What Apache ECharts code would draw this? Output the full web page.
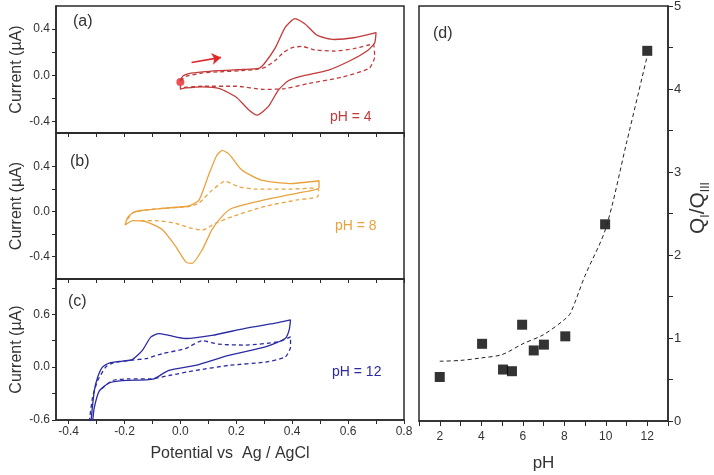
<!DOCTYPE html>
<html>
<head>
<meta charset="utf-8">
<script src="https://cdn.jsdelivr.net/npm/echarts@6/dist/echarts.min.js"></script>
<style>
html, body { margin: 0; padding: 0; background: #fff; }
#chart { width: 714px; height: 475px; }
</style>
</head>
<body>
<div id="chart"></div>
<script>
// tick positions
const potentialTicks = [-0.4, -0.2, 0, 0.2, 0.4, 0.6, 0.8]
const potentialMinor = [-0.4, -0.3, -0.2, -0.1, 0, 0.1, 0.2, 0.3, 0.4, 0.5, 0.6, 0.7, 0.8]
const currentTicksAB = [-0.4, 0, 0.4]
const currentMinorAB = [-0.4, -0.2, 0, 0.2, 0.4]
const currentTicksC = [-0.6, 0, 0.6]
const currentMinorC = [-0.6, -0.3, 0, 0.3, 0.6, 0.9]
const phTicks = [2, 4, 6, 8, 10, 12]
const ratioTicks = [0, 1, 2, 3, 4, 5]

// (a) pH = 4, [potential V, current uA]
const cvPh4Solid = [[0.0,-0.04],[0.01,-0.005],[0.03,0.015],[0.08,0.03],[0.14,0.04],[0.22,0.05],[0.28,0.06],[0.30,0.10],[0.34,0.24],[0.375,0.415],[0.41,0.49],[0.446,0.445],[0.49,0.345],[0.55,0.31],[0.62,0.325],[0.70,0.37],[0.695,0.28],[0.67,0.215],[0.61,0.13],[0.53,0.045],[0.43,-0.01],[0.385,-0.05],[0.35,-0.13],[0.315,-0.27],[0.275,-0.345],[0.245,-0.30],[0.20,-0.19],[0.14,-0.115],[0.08,-0.10],[0.02,-0.11],[0.0,-0.12],[0.0,-0.09]]
const cvPh4Dashed = [[0.0,-0.05],[0.02,-0.01],[0.08,0.02],[0.14,0.03],[0.22,0.04],[0.27,0.05],[0.30,0.066],[0.34,0.13],[0.37,0.20],[0.40,0.24],[0.435,0.25],[0.48,0.22],[0.55,0.21],[0.62,0.23],[0.67,0.26],[0.69,0.27],[0.695,0.16],[0.675,0.06],[0.58,-0.015],[0.46,-0.07],[0.375,-0.115],[0.30,-0.123],[0.20,-0.095],[0.08,-0.095],[0.01,-0.105]]
const startPoint = [[0.0, -0.058]]
const arrowFrom = [0.04, 0.11]
const arrowTo = [0.145, 0.155]

// (b) pH = 8
const cvPh8Solid = [[-0.198,-0.12],[-0.19,-0.06],[-0.17,-0.01],[-0.14,0.01],[-0.06,0.03],[0.03,0.05],[0.066,0.10],[0.10,0.32],[0.13,0.50],[0.15,0.545],[0.175,0.51],[0.22,0.37],[0.29,0.28],[0.39,0.25],[0.496,0.275],[0.496,0.21],[0.42,0.165],[0.30,0.105],[0.185,0.03],[0.15,-0.04],[0.113,-0.16],[0.078,-0.34],[0.042,-0.46],[0.02,-0.45],[-0.017,-0.31],[-0.065,-0.16],[-0.124,-0.09],[-0.17,-0.08],[-0.198,-0.12]]
const cvPh8Dashed = [[-0.19,-0.07],[-0.17,-0.01],[-0.14,0.01],[-0.06,0.03],[0.03,0.045],[0.066,0.075],[0.113,0.19],[0.16,0.27],[0.21,0.22],[0.27,0.20],[0.39,0.20],[0.48,0.21],[0.495,0.19],[0.49,0.13],[0.42,0.105],[0.30,0.045],[0.185,-0.045],[0.125,-0.105],[0.078,-0.165],[0.042,-0.15],[-0.017,-0.105],[-0.09,-0.08],[-0.15,-0.08]]

// (c) pH = 12
const cvPh12Solid = [[-0.32,-0.62],[-0.308,-0.27],[-0.296,-0.115],[-0.279,0.0],[-0.255,0.046],[-0.207,0.069],[-0.172,0.085],[-0.136,0.19],[-0.106,0.34],[-0.077,0.38],[-0.041,0.36],[0.018,0.325],[0.113,0.36],[0.232,0.44],[0.35,0.505],[0.394,0.535],[0.389,0.42],[0.375,0.325],[0.304,0.23],[0.173,0.134],[0.054,0.02],[-0.041,-0.038],[-0.095,-0.134],[-0.124,-0.145],[-0.207,-0.153],[-0.255,-0.18],[-0.29,-0.27],[-0.308,-0.46],[-0.314,-0.62]]
const cvPh12Dashed = [[-0.326,-0.62],[-0.314,-0.34],[-0.296,-0.153],[-0.267,0.0],[-0.243,0.046],[-0.207,0.065],[-0.172,0.08],[-0.124,0.096],[-0.065,0.153],[0.018,0.21],[0.078,0.30],[0.137,0.26],[0.232,0.25],[0.35,0.287],[0.394,0.344],[0.394,0.23],[0.375,0.115],[0.304,0.057],[0.173,0.02],[0.054,-0.038],[-0.041,-0.095],[-0.106,-0.134],[-0.184,-0.134],[-0.243,-0.153],[-0.29,-0.27]]

// (d) charge ratio vs pH
const phValues = [2, 4.04, 5.05, 5.48, 5.97, 6.53, 7.02, 8.05, 9.97, 12]
const ratioValues = [0.53, 0.93, 0.62, 0.60, 1.16, 0.85, 0.92, 1.02, 2.37, 4.46]
const fitPh = [2, 3, 4, 5, 6, 7, 8, 8.3, 9, 10, 11, 12]
const fitRatio = [0.72, 0.73, 0.76, 0.80, 0.93, 1.04, 1.22, 1.30, 1.75, 2.32, 3.35, 4.4]

const FONT = '"Liberation Sans", Arial, sans-serif'
const AXIS = '#2a2a2a'
const RED = '#c23a3a'
const ORANGE = '#eaa23e'
const BLUE = '#2b2ba3'

const chart = echarts.init(document.getElementById('chart'))

function cvXAxis(idx, withLabels) {
  return {
    type: 'value', gridIndex: idx, min: -0.445, max: 0.8,
    axisLine: { show: true, onZero: false, lineStyle: { color: AXIS, width: 1.5 } },
    axisTick: { show: true, inside: false, length: 4, customValues: potentialMinor, lineStyle: { color: AXIS } },
    axisLabel: { show: withLabels, customValues: potentialTicks, formatter: v => v.toFixed(1),
      fontSize: 12, color: '#333', fontFamily: FONT, margin: 6 },
    splitLine: { show: false },
    name: withLabels ? 'Potential vs  Ag / AgCl' : '',
    nameLocation: 'middle', nameGap: 26,
    nameTextStyle: { fontSize: 16, color: '#333', fontFamily: FONT }
  }
}

function cvYAxis(idx, min, max, labels, ticks) {
  return {
    type: 'value', gridIndex: idx, min: min, max: max,
    axisLine: { show: true, onZero: false, lineStyle: { color: AXIS, width: 1.5 } },
    axisTick: { show: true, inside: false, length: 4, customValues: ticks, lineStyle: { color: AXIS } },
    axisLabel: { customValues: labels, formatter: v => v.toFixed(1),
      fontSize: 12, color: '#333', fontFamily: FONT, margin: 6 },
    splitLine: { show: false },
    name: 'Current (\u00b5A)', nameLocation: 'middle', nameGap: 31,
    nameTextStyle: { fontSize: 16, color: '#333', fontFamily: FONT }
  }
}

function cvLine(idx, data, color, dashed) {
  return {
    type: 'line', xAxisIndex: idx, yAxisIndex: idx, data: data,
    showSymbol: false, smooth: 0.2,
    lineStyle: { color: color, width: 1.3, type: dashed ? [4, 3] : 'solid' }
  }
}

const frame = { show: true, borderColor: AXIS, borderWidth: 1.5, backgroundColor: 'transparent' }

const option = {
  animation: false,
  backgroundColor: '#fff',
  grid: [
    { left: 56, top: 6, width: 348, height: 127, outerBoundsMode: 'none', ...frame },
    { left: 56, top: 133, width: 348, height: 146, outerBoundsMode: 'none', ...frame },
    { left: 56, top: 279, width: 348, height: 141, outerBoundsMode: 'none', ...frame },
    { left: 419, top: 6, width: 249, height: 415, outerBoundsMode: 'none', ...frame }
  ],
  xAxis: [
    cvXAxis(0, false),
    cvXAxis(1, false),
    cvXAxis(2, true),
    {
      type: 'value', gridIndex: 3, min: 1, max: 13, interval: 1,
      axisLine: { show: true, onZero: false, lineStyle: { color: AXIS, width: 1.5 } },
      axisTick: { show: true, inside: false, length: 5, lineStyle: { color: AXIS } },
      axisLabel: { customValues: phTicks, fontSize: 12, color: '#333', fontFamily: FONT, margin: 10 },
      splitLine: { show: false },
      name: 'pH', nameLocation: 'middle', nameGap: 34,
      nameTextStyle: { fontSize: 17, color: '#333', fontFamily: FONT }
    }
  ],
  yAxis: [
    cvYAxis(0, -0.5, 0.6, currentTicksAB, currentMinorAB),
    cvYAxis(1, -0.6, 0.7, currentTicksAB, currentMinorAB),
    cvYAxis(2, -0.6, 1.0, currentTicksC, currentMinorC),
    {
      type: 'value', gridIndex: 3, position: 'right', min: 0, max: 5, interval: 0.5,
      axisLine: { show: true, onZero: false, lineStyle: { color: AXIS, width: 1.5 } },
      axisTick: { show: true, inside: false, length: 5, lineStyle: { color: AXIS } },
      axisLabel: { customValues: ratioTicks, fontSize: 13, color: '#333', fontFamily: FONT, margin: 6 },
      splitLine: { show: false }
    }
  ],
  graphic: [
    { type: 'text', left: 73, top: 14, style: { text: '(a)', fontSize: 16, fill: '#333', fontFamily: FONT } },
    { type: 'text', left: 70, top: 154, style: { text: '(b)', fontSize: 16, fill: '#333', fontFamily: FONT } },
    { type: 'text', left: 68, top: 294, style: { text: '(c)', fontSize: 16, fill: '#333', fontFamily: FONT } },
    { type: 'text', left: 433, top: 26, style: { text: '(d)', fontSize: 16, fill: '#333', fontFamily: FONT } },
    { type: 'text', left: 330, top: 110, style: { text: 'pH = 4', fontSize: 14, fill: RED, fontFamily: FONT } },
    { type: 'text', left: 335, top: 219, style: { text: 'pH = 8', fontSize: 14, fill: ORANGE, fontFamily: FONT } },
    { type: 'text', left: 332, top: 365, style: { text: 'pH = 12', fontSize: 14, fill: BLUE, fontFamily: FONT } },
    {
      type: 'text', x: 688, y: 234, rotation: Math.PI / 2,
      style: {
        text: '{q|Q}{s|I}{q|/Q}{s|III}', fill: '#333', fontFamily: FONT,
        rich: {
          q: { fontSize: 21, fontFamily: FONT, fill: '#333', verticalAlign: 'top', lineHeight: 26 },
          s: { fontSize: 12, fontFamily: FONT, fill: '#333', verticalAlign: 'top', lineHeight: 26, padding: [12, 0, 0, 0] }
        }
      }
    }
  ],
  series: [
    {
      ...cvLine(0, cvPh4Solid, RED, false),
      markLine: {
        silent: true, symbol: ['none', 'arrow'], symbolSize: 9,
        label: { show: false },
        lineStyle: { color: '#e02828', width: 1.6, type: 'solid' },
        data: [[{ coord: arrowFrom }, { coord: arrowTo }]]
      }
    },
    cvLine(0, cvPh4Dashed, RED, true),
    {
      type: 'scatter', xAxisIndex: 0, yAxisIndex: 0, data: startPoint,
      symbol: 'circle', symbolSize: 8, itemStyle: { color: '#e8242a' }
    },
    cvLine(1, cvPh8Solid, ORANGE, false),
    cvLine(1, cvPh8Dashed, ORANGE, true),
    cvLine(2, cvPh12Solid, BLUE, false),
    cvLine(2, cvPh12Dashed, BLUE, true),
    {
      type: 'line', xAxisIndex: 3, yAxisIndex: 3,
      data: fitPh.map((p, i) => [p, fitRatio[i]]),
      showSymbol: false, smooth: 0.3,
      lineStyle: { color: '#222', width: 1, type: [4, 3] }
    },
    {
      type: 'scatter', xAxisIndex: 3, yAxisIndex: 3,
      data: phValues.map((p, i) => [p, ratioValues[i]]),
      symbol: 'rect', symbolSize: 10, itemStyle: { color: '#000' }
    }
  ]
}

chart.setOption(option)
</script>
</body>
</html>
